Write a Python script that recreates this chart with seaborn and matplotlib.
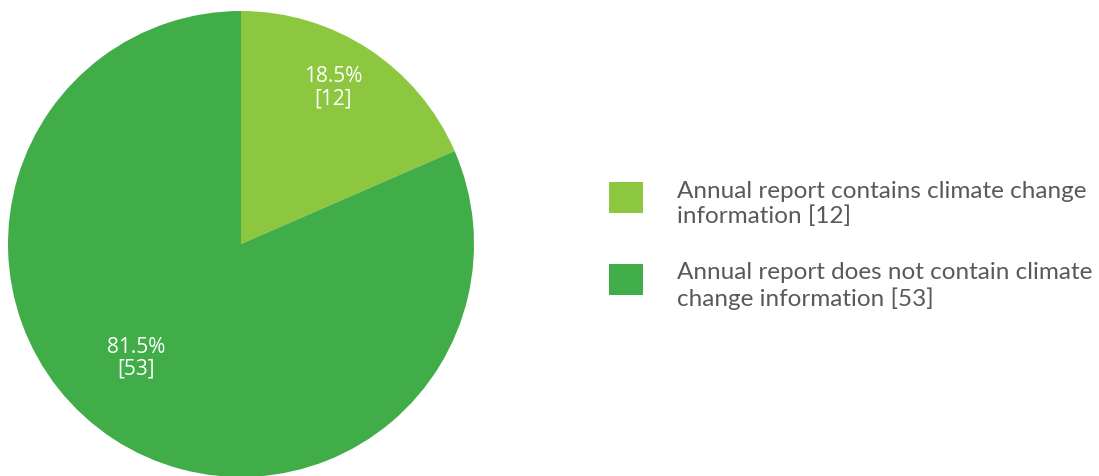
import matplotlib
matplotlib.use("Agg")
import matplotlib.pyplot as plt
from matplotlib.patches import Rectangle
from matplotlib.legend_handler import HandlerPatch
import seaborn as sns
import numpy as np

labels = ["Annual report contains climate change\ninformation [12]",
          "Annual report does not contain climate\nchange information [53]"]
counts = [12, 53]
colors = ["#8DC63F", "#40AD49"]

sns.set_theme(style="white")
plt.rcParams['font.family'] = ['Lato', 'DejaVu Sans']

fig = plt.figure(figsize=(10.99, 4.76), dpi=100)
ax = fig.add_axes([8/1099, -1/476, 466/1099, 466/476])

total = sum(counts)
wedges, texts, autotexts = ax.pie(
    counts, colors=colors, startangle=90, counterclock=False,
    autopct=lambda p: "", wedgeprops=dict(linewidth=0))

# label text positions (Excel-style placement)
lab_pos = [(0.395, 0.67), (-0.45, -0.49)]
for c, (x, y) in zip(counts, lab_pos):
    ax.text(x, y, f"{c/total*100:.1f}%\n[{c}]", ha="center", va="center",
            color="white", fontsize=15, family=["Open Sans", "DejaVu Sans"],
            linespacing=1.05)

ax.set_xlim(-1, 1)
ax.set_ylim(-1, 1)
ax.set_aspect("equal")
ax.axis("off")


# square swatch nudged up a little, like the Excel legend
def square(legend, orig_handle, xdescent, ydescent, width, height, fontsize):
    return Rectangle((-xdescent, -ydescent + 5), width, height)


leg = fig.legend(wedges, labels, loc="upper left",
                 bbox_to_anchor=(609/1099, 1 - 181/476), frameon=False,
                 fontsize=17.5, handlelength=1.4, handleheight=1.55,
                 handletextpad=1.4, labelspacing=1.45, borderpad=0,
                 borderaxespad=0,
                 handler_map={w: HandlerPatch(patch_func=square) for w in wedges})
for t in leg.get_texts():
    t.set_color("#595959")
    t.set_linespacing(1.2)

fig.savefig("out.png", dpi=100)
